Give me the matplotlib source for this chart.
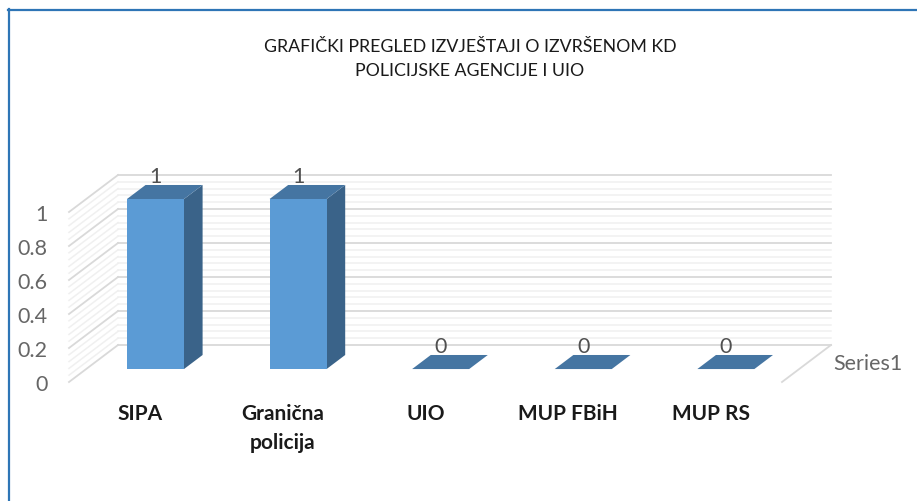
import matplotlib
matplotlib.use("Agg")
import matplotlib.pyplot as plt
from matplotlib.lines import Line2D

agencies = ["SIPA", "Granična\npolicija", "UIO", "MUP FBiH", "MUP RS"]
reports = [1, 1, 0, 0, 0]
value_ticks = [0, 0.2, 0.4, 0.6, 0.8, 1]
value_tick_labels = ["0", "0.2", "0.4", "0.6", "0.8", "1"]
minor_ticks = [i * 0.04 for i in range(26)]
series_name = "Series1"
title = "GRAFIČKI PREGLED IZVJEŠTAJI O IZVRŠENOM KD\nPOLICIJSKE AGENCIJE I UIO"

W, H = 917, 502

# Excel style fake 3D: depth is a shear in data units
DEPTH_X = 49 / 142.6
DEPTH_Y = 37 / 170
BAR_W = 0.4
BAR_FRONT = 0.35
BAR_BACK = 0.73
BAR_SHIFT = -0.014


def project(x, v, d):
    return x + d * DEPTH_X, v + d * DEPTH_Y


def face(ax, corners, color):
    xs, ys = zip(*[project(*c) for c in corners])
    ax.fill(xs, ys, color=color, lw=0, zorder=3, clip_on=False)


fig = plt.figure(figsize=(W / 100, H / 100), dpi=100)
plt.rcParams["font.family"] = ["Lato", "DejaVu Sans"]
ax = fig.add_axes([69 / W, 1 - 383 / H, 713 / W, 170 / H])
ax.set_xlim(-0.5, 4.5)
ax.set_ylim(0, 1)
for s in ax.spines.values():
    s.set_visible(False)
ax.patch.set_alpha(0)

# walls
x0, x1 = -0.5, 4.5
for v in minor_ticks:
    major = min(abs(v - t) for t in value_ticks) < 1e-6
    color = "#d9d9d9" if major else "#f0f0f0"
    lw = 1.3 if major else 1.1
    z = 2 if major else 1
    xs, ys = zip(project(x0, v, 0), project(x0, v, 1))
    ax.plot(xs, ys, color=color, lw=lw, zorder=z, clip_on=False)
    xs, ys = zip(project(x0, v, 1), project(x1, v, 1))
    ax.plot(xs, ys, color=color, lw=lw, zorder=z, clip_on=False)
xs, ys = zip(project(x1, 0, 0), project(x1, 0, 1))
ax.plot(xs, ys, color="#d9d9d9", lw=1.3, zorder=2, clip_on=False)

# bars
for i, val in enumerate(reports):
    c = i + BAR_SHIFT
    l, r = c - BAR_W / 2, c + BAR_W / 2
    face(ax, [(r, 0, BAR_FRONT), (r, 0, BAR_BACK), (r, val, BAR_BACK), (r, val, BAR_FRONT)], "#3a6389")
    face(ax, [(l, val, BAR_FRONT), (r, val, BAR_FRONT), (r, val, BAR_BACK), (l, val, BAR_BACK)], "#4575a2")
    if val > 0:
        face(ax, [(l, 0, BAR_FRONT), (r, 0, BAR_FRONT), (r, val, BAR_FRONT), (l, val, BAR_FRONT)], "#5b9bd5")
    ax.annotate(str(val), xy=project(c, val, BAR_FRONT), xytext=(0, 16.5), textcoords="offset points",
                ha="center", va="center", fontsize=15.5, color="#505050", zorder=4, annotation_clip=False)

ax.set_xticks(range(len(agencies)))
ax.set_xticklabels(agencies, fontsize=15, fontweight="bold", color="#1a1a1a", linespacing=1.6, va="top")
ax.set_yticks(value_ticks)
ax.set_yticklabels(value_tick_labels, fontsize=15.5, color="#666666")
ax.tick_params(axis="x", length=0, pad=15)
ax.tick_params(axis="y", length=0, pad=15.5)

ax.annotate(series_name, xy=project(x1, 0, 0.5), xytext=(19, 0), textcoords="offset points",
            ha="left", va="center", fontsize=15.5, color="#666666", annotation_clip=False)

fig.text(470 / W, 1 - 59 / H, title, ha="center", va="center", fontsize=12.8,
         color="#1a1a1a", linespacing=1.6)

# blue frame, only left and top are visible
frame = "#2e75b6"
fig.add_artist(Line2D([8.5 / W, 8.5 / W], [0, 1 - 10 / H], color=frame, lw=1.6))
fig.add_artist(Line2D([7.7 / W, 1], [1 - 11 / H, 1 - 11 / H], color=frame, lw=1.6))

fig.savefig("out.png", dpi=100)
